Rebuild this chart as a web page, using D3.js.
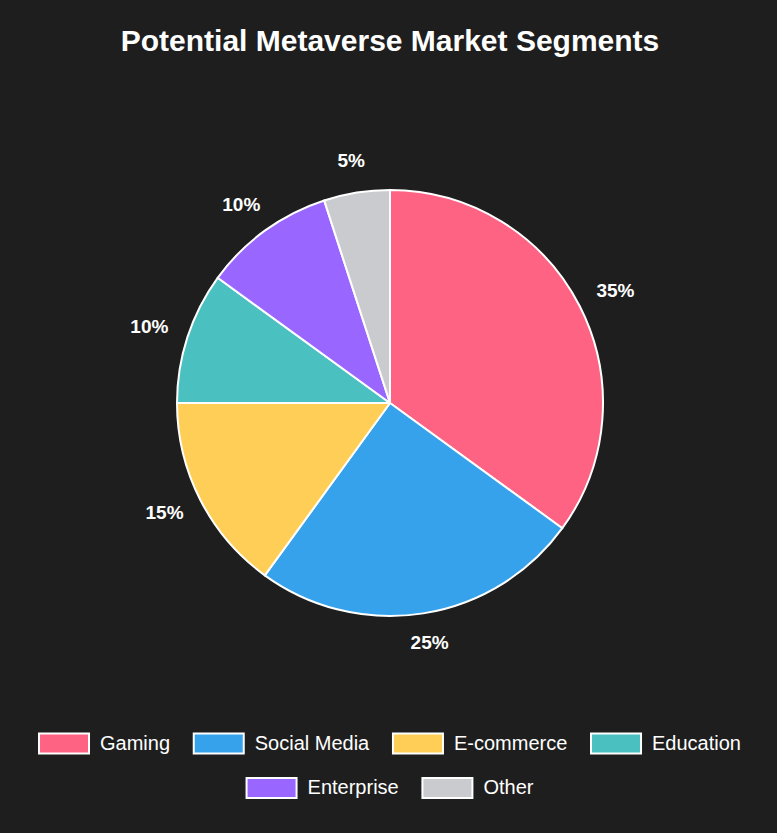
<!DOCTYPE html>
<html>
<head>
<meta charset="utf-8">
<script src="https://cdn.jsdelivr.net/npm/d3@7"></script>
<style>
  html, body { margin: 0; padding: 0; background: #1e1e1e; }
  svg { display: block; }
</style>
</head>
<body>
<svg id="chart" width="777" height="833"></svg>
<script>
const categories = ["Gaming", "Social Media", "E-commerce", "Education", "Enterprise", "Other"];
const values = [35, 25, 15, 10, 10, 5];
const colors = ["#FF6384", "#36A2EB", "#FFCE56", "#4BC0C0", "#9966FF", "#C9CBCF"];
const title = "Potential Metaverse Market Segments";

const W = 777, H = 833;
const svg = d3.select("#chart");
svg.append("rect").attr("width", W).attr("height", H).attr("fill", "#1e1e1e");

const font = "'Liberation Sans', Arial, Helvetica, sans-serif";

svg.append("text")
  .attr("x", 390).attr("y", 40)
  .attr("text-anchor", "middle").attr("dominant-baseline", "central")
  .attr("fill", "#ffffff").attr("font-family", font)
  .attr("font-size", 30).attr("font-weight", "bold")
  .text(title);

const cx = 390, cy = 403, R = 213, labelR = 234, labelHH = 10;
const total = d3.sum(values);
const pie = d3.pie().sort(null).value(d => d)(values);
const arc = d3.arc().innerRadius(0).outerRadius(R);
const g = svg.append("g").attr("transform", `translate(${cx},${cy})`);

g.selectAll("path.slice").data(pie).enter().append("path")
  .attr("class", "slice")
  .attr("d", arc)
  .attr("fill", (d, i) => colors[i])
  .attr("stroke", "#ffffff").attr("stroke-width", 2).attr("stroke-linejoin", "round");

// Labels anchored outside the slice end, box aligned along the bisector direction
g.selectAll("text.lbl").data(pie).enter().append("text")
  .attr("class", "lbl")
  .attr("text-anchor", "middle").attr("dominant-baseline", "central")
  .attr("fill", "#ffffff").attr("font-family", font)
  .attr("font-size", 19).attr("font-weight", "bold")
  .text(d => Math.round(d.value / total * 100) + "%")
  .each(function(d) {
    const a = (d.startAngle + d.endAngle) / 2;
    const ux = Math.sin(a), uy = -Math.cos(a);
    const hw = this.getComputedTextLength() / 2;
    const x = (labelR + hw) * ux;
    const y = (labelR + labelHH) * uy - 1.5;
    d3.select(this).attr("x", x).attr("y", y);
  });

// Legend
const rows = [[0, 1, 2, 3], [4, 5]];
const rowY = [743.5, 788];
const boxW = 50, boxH = 20, gapBT = 10, gapItem = 22.7, legFont = 20;
const legend = svg.append("g");
rows.forEach((row, ri) => {
  const items = row.map(i => {
    const t = legend.append("text")
      .attr("font-family", font).attr("font-size", legFont)
      .attr("fill", "#ffffff").attr("dominant-baseline", "central")
      .text(categories[i]);
    return { i, t, w: t.node().getComputedTextLength() };
  });
  const totalW = d3.sum(items, d => boxW + 2 + gapBT + d.w) + gapItem * (items.length - 1);
  let x = 389.5 - totalW / 2;
  items.forEach(it => {
    legend.append("rect")
      .attr("x", x + 1).attr("y", rowY[ri] - boxH / 2)
      .attr("width", boxW).attr("height", boxH)
      .attr("fill", colors[it.i]).attr("stroke", "#ffffff").attr("stroke-width", 2);
    it.t.attr("x", x + boxW + 2 + gapBT).attr("y", rowY[ri] - 1);
    x += boxW + 2 + gapBT + it.w + gapItem;
  });
});
</script>
</body>
</html>
